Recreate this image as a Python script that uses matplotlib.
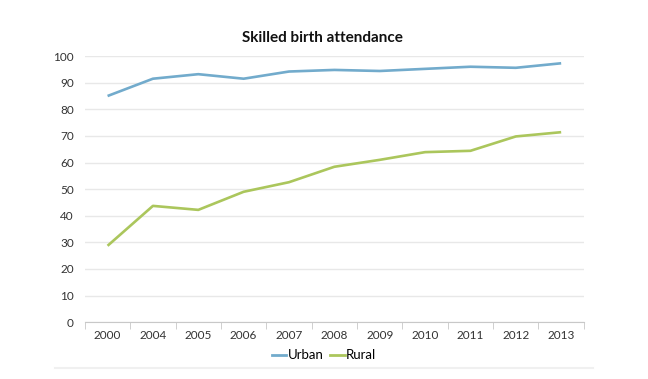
import matplotlib.pyplot as plt
import numpy as np
from matplotlib.lines import Line2D

years = ["2000", "2004", "2005", "2006", "2007", "2008", "2009", "2010", "2011", "2012", "2013"]
urban = [85.0, 91.5, 93.2, 91.5, 94.2, 94.8, 94.4, 95.2, 96.0, 95.6, 97.3]
rural = [28.7, 43.7, 42.2, 49.0, 52.6, 58.4, 61.0, 63.9, 64.4, 69.8, 71.4]

plt.rcParams['font.family'] = ['Lato', 'DejaVu Sans']

fig = plt.figure(figsize=(6.48, 3.79), dpi=100)
ax = fig.add_axes([0.131, 0.150, 0.770, 0.702])

x = np.arange(len(years))
ax.plot(x, urban, color="#72abcc", lw=1.9, label="Urban", solid_capstyle="butt")
ax.plot(x, rural, color="#abc65c", lw=1.9, label="Rural", solid_capstyle="butt")

ax.set_xlim(-0.5, len(years) - 0.5)
ax.set_ylim(0, 100)
ax.set_yticks(range(0, 101, 10))
ax.set_xticks(x)
ax.set_xticklabels(years)
ax.set_xticks(np.arange(-0.5, len(years), 1), minor=True)
ax.tick_params(axis="x", which="major", length=0, pad=6, labelsize=8.5, colors="#333333")
ax.tick_params(axis="x", which="minor", length=5, color="#c8c8c8")
ax.tick_params(axis="y", length=0, pad=8, labelsize=8.5, colors="#333333")

ax.grid(axis="y", color="#e8e8e8", lw=1)
ax.set_axisbelow(True)
for s in ["top", "right", "left"]:
    ax.spines[s].set_visible(False)
ax.spines["bottom"].set_color("#c8c8c8")

fig.text(0.498, 0.888, "Skilled birth attendance", ha="center", fontsize=11, fontweight="bold", color="#111111")

handles = [Line2D([], [], color="#72abcc", lw=2), Line2D([], [], color="#abc65c", lw=2)]
fig.legend(handles, ["Urban", "Rural"], loc="center", bbox_to_anchor=(0.5, 0.063), ncol=2, frameon=False,
           fontsize=9.5, handlelength=1.1, handletextpad=0.1, columnspacing=0.5)

fig.add_artist(Line2D([0.085, 0.915], [0.03, 0.03], color="#f0f0f0", lw=1.5))

fig.savefig("out.png", dpi=100)
